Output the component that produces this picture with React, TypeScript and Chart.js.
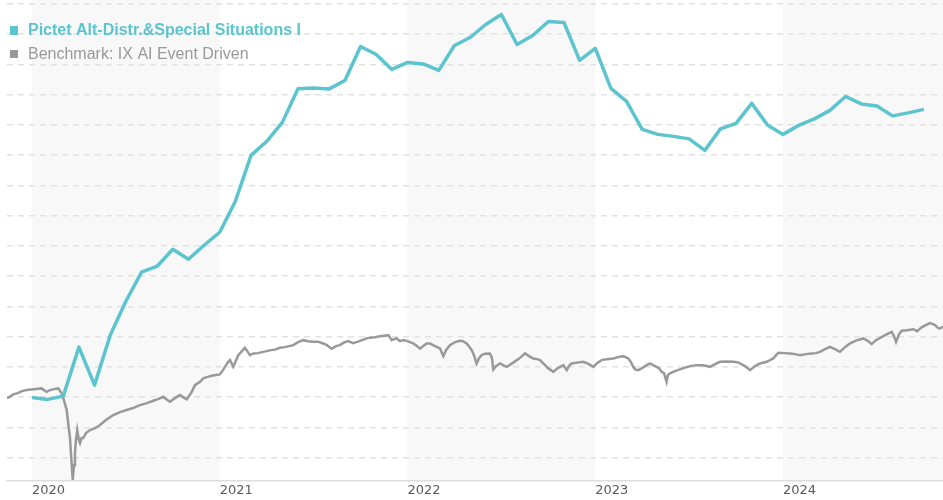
import React, { useEffect, useRef } from "react";
import { Chart, registerables } from "chart.js";

Chart.register(...registerables);

const fundName = "Pictet Alt-Distr.&Special Situations I";
const benchName = "Benchmark: IX AI Event Driven";
const fundColor = "#5cc4ce";
const benchColor = "#999999";

const yearTicks = [2020, 2021, 2022, 2023, 2024];
const shadedYears = [2020, 2022, 2024];

// Fund: month-end values (performance, %)
const fundMonths = [
  "2019-12", "2020-01", "2020-02", "2020-03", "2020-04", "2020-05", "2020-06", "2020-07", "2020-08", "2020-09", "2020-10", "2020-11",
  "2020-12", "2021-01", "2021-02", "2021-03", "2021-04", "2021-05", "2021-06", "2021-07", "2021-08", "2021-09", "2021-10", "2021-11",
  "2021-12", "2022-01", "2022-02", "2022-03", "2022-04", "2022-05", "2022-06", "2022-07", "2022-08", "2022-09", "2022-10", "2022-11",
  "2022-12", "2023-01", "2023-02", "2023-03", "2023-04", "2023-05", "2023-06", "2023-07", "2023-08", "2023-09", "2023-10", "2023-11",
  "2023-12", "2024-01", "2024-02", "2024-03", "2024-04", "2024-05", "2024-06", "2024-07", "2024-08", "2024-09",
];
const fundValues = [
  -0.17, -0.76, 0.33, 16.52, 3.96, 20.48, 31.71, 41.3, 43.28, 48.89, 45.59, 50.21,
  54.51, 64.75, 79.95, 84.57, 90.85, 101.98, 102.25, 101.92, 104.72, 115.96, 113.31, 108.36,
  110.67, 110.17, 108.03, 116.29, 118.93, 123.22, 126.53, 116.62, 119.59, 124.21, 123.88, 111.33,
  115.3, 102.08, 97.79, 88.54, 86.88, 86.22, 85.4, 81.6, 88.7, 90.52, 97.13, 90.02,
  86.88, 89.86, 92.0, 94.81, 99.41, 96.96, 96.3, 93.0, 93.99, 95.14,
];

// Benchmark: dates as decimal years, values (performance, %)
const benchDates = [
  2019.867, 2019.883, 2019.9, 2019.925, 2019.947, 2019.972, 2019.995, 2020.021, 2020.052, 2020.064,
  2020.078, 2020.096, 2020.117, 2020.14, 2020.158, 2020.17, 2020.185, 2020.194, 2020.202, 2020.21,
  2020.217, 2020.224, 2020.229, 2020.234, 2020.241, 2020.25, 2020.256, 2020.264, 2020.273, 2020.288,
  2020.309, 2020.336, 2020.362, 2020.394, 2020.433, 2020.469, 2020.504, 2020.538, 2020.575, 2020.612,
  2020.646, 2020.671, 2020.699, 2020.714, 2020.735, 2020.762, 2020.788, 2020.804, 2020.824, 2020.836,
  2020.851, 2020.868, 2020.895, 2020.912, 2020.932, 2020.957, 2020.98, 2021.001, 2021.017, 2021.028,
  2021.044, 2021.055, 2021.072, 2021.087, 2021.099, 2021.113, 2021.134, 2021.15, 2021.161, 2021.179,
  2021.204, 2021.225, 2021.25, 2021.273, 2021.294, 2021.321, 2021.347, 2021.369, 2021.392, 2021.417,
  2021.445, 2021.47, 2021.498, 2021.523, 2021.551, 2021.571, 2021.596, 2021.619, 2021.64, 2021.658,
  2021.683, 2021.711, 2021.736, 2021.765, 2021.779, 2021.8, 2021.827, 2021.853, 2021.875, 2021.898,
  2021.916, 2021.928, 2021.942, 2021.96, 2021.978, 2021.996, 2022.013, 2022.031, 2022.051, 2022.067,
  2022.083, 2022.102, 2022.12, 2022.136, 2022.155, 2022.173, 2022.191, 2022.205, 2022.226, 2022.253,
  2022.28, 2022.296, 2022.315, 2022.327, 2022.342, 2022.354, 2022.368, 2022.381, 2022.395, 2022.413,
  2022.439, 2022.45, 2022.457, 2022.471, 2022.493, 2022.509, 2022.528, 2022.551, 2022.582, 2022.604,
  2022.626, 2022.647, 2022.67, 2022.69, 2022.706, 2022.727, 2022.75, 2022.764, 2022.776, 2022.801,
  2022.83, 2022.848, 2022.86, 2022.874, 2022.903, 2022.936, 2022.961, 2022.99, 2023.009, 2023.034,
  2023.062, 2023.096, 2023.121, 2023.149, 2023.176, 2023.19, 2023.202, 2023.212, 2023.229, 2023.249,
  2023.274, 2023.291, 2023.307, 2023.327, 2023.339, 2023.354, 2023.366, 2023.38, 2023.387, 2023.398,
  2023.425, 2023.451, 2023.478, 2023.505, 2023.54, 2023.574, 2023.611, 2023.638, 2023.664, 2023.696,
  2023.735, 2023.755, 2023.771, 2023.797, 2023.824, 2023.851, 2023.877, 2023.913, 2023.931, 2023.948,
  2023.963, 2023.975, 2024.005, 2024.037, 2024.064, 2024.09, 2024.122, 2024.153, 2024.176, 2024.197,
  2024.224, 2024.25, 2024.277, 2024.303, 2024.33, 2024.357, 2024.389, 2024.428, 2024.453, 2024.472,
  2024.495, 2024.534, 2024.554, 2024.579, 2024.591, 2024.602, 2024.618, 2024.632, 2024.66, 2024.694,
  2024.714, 2024.74, 2024.761, 2024.782, 2024.799, 2024.809, 2024.827, 2024.836, 2024.852,
];
const benchValues = [
  -0.33, 0.17, 0.89, 1.32, 1.98, 2.31, 2.48, 2.64, 2.87, 2.31,
  1.75, 2.31, 2.64, 2.87, 1.22, -0.99, -4.29, -9.25, -13.12, -20.81,
  -27.42, -22.46, -18.5, -14.21, -10.9, -14.21, -15.2, -13.54, -13.54, -11.89,
  -10.9, -10.24, -9.25, -7.6, -5.95, -4.96, -4.29, -3.63, -2.64, -1.98,
  -1.22, -0.66, 0.1, -0.66, -1.55, -0.33, 0.66, 0.0, -0.76, 0.33,
  1.75, 3.96, 5.05, 6.18, 6.61, 7.04, 7.27, 7.5, 8.92, 10.01,
  11.56, 12.22, 10.01, 12.22, 13.88, 14.87, 16.29, 14.87, 13.88, 14.44,
  14.54, 14.87, 15.2, 15.53, 15.69, 16.29, 16.52, 16.85, 17.18, 18.17,
  18.83, 18.5, 18.27, 18.33, 17.74, 17.18, 16.02, 16.85, 17.18, 17.94,
  18.5, 17.84, 18.33, 19.0, 19.33, 19.66, 19.82, 20.15, 20.32, 20.48,
  18.83, 19.16, 19.39, 18.5, 18.83, 18.6, 18.17, 17.74, 16.85, 16.02,
  16.85, 17.74, 17.74, 17.18, 16.62, 16.09, 13.54, 15.53, 17.18, 18.17,
  18.6, 18.5, 17.74, 16.85, 15.53, 13.88, 11.13, 12.88, 13.88, 14.37,
  14.44, 12.88, 9.15, 10.24, 11.13, 10.57, 10.01, 10.9, 12.22, 13.21,
  14.44, 13.54, 12.78, 12.55, 12.22, 10.9, 9.48, 8.92, 8.36, 9.58,
  10.57, 8.92, 10.24, 11.13, 11.4, 11.66, 11.07, 10.01, 11.23, 12.22,
  12.55, 12.78, 13.21, 13.54, 12.78, 11.56, 10.01, 9.15, 8.92, 9.58,
  10.57, 11.13, 10.57, 10.01, 9.58, 8.36, 7.93, 5.05, 7.27, 7.83,
  8.59, 9.15, 9.75, 10.24, 10.57, 10.57, 10.01, 10.9, 11.66, 11.73,
  11.66, 11.56, 11.13, 10.24, 8.92, 10.24, 11.13, 11.66, 12.22, 12.78,
  13.88, 14.63, 14.54, 14.44, 14.21, 13.88, 14.21, 14.44, 14.54, 14.97,
  15.86, 16.62, 15.86, 14.97, 16.52, 17.74, 18.67, 19.39, 18.5, 17.51,
  18.83, 20.15, 20.81, 21.57, 20.15, 18.27, 20.81, 21.97, 22.13, 22.46,
  21.8, 23.13, 23.79, 24.45, 24.12, 23.79, 22.79, 22.7, 23.29,
];

const xMin = 2019.867;
const xMax = 2024.852;
const yMin = -27.75;
const yMax = 130;

function monthToYear(s: string): number {
  const [y, m] = s.split("-").map(Number);
  return y + m / 12;
}

const bandsPlugin = {
  id: "bands",
  beforeDraw(chart: any) {
    const { ctx, chartArea, scales } = chart;
    const xs = scales.x;
    ctx.save();
    ctx.fillStyle = "#f8f8f8";
    for (const yr of shadedYears) {
      const x0 = Math.max(chartArea.left, xs.getPixelForValue(yr));
      const x1 = Math.min(chartArea.right, xs.getPixelForValue(yr + 1));
      if (x1 > x0) ctx.fillRect(x0, 0, x1 - x0, chartArea.bottom);
    }
    ctx.restore();
  },
};

const legendPlugin = {
  id: "customLegend",
  afterDraw(chart: any) {
    const { ctx } = chart;
    ctx.save();
    ctx.textBaseline = "alphabetic";
    ctx.textAlign = "left";
    ctx.fillStyle = fundColor;
    ctx.fillRect(10, 26, 8, 9);
    ctx.font = "bold 16px 'Liberation Sans', Arial, sans-serif";
    ctx.fillText(fundName, 28, 35);
    ctx.fillStyle = benchColor;
    ctx.fillRect(10, 50, 8, 8);
    ctx.font = "16px 'Liberation Sans', Arial, sans-serif";
    ctx.fillText(benchName, 28, 58.5);
    ctx.restore();
  },
};

export default function App() {
  const ref = useRef<HTMLCanvasElement | null>(null);

  useEffect(() => {
    if (!ref.current) return;
    const fundData = fundMonths.map((m, i) => ({ x: monthToYear(m), y: fundValues[i] }));
    const benchData = benchDates.map((d, i) => ({ x: d, y: benchValues[i] }));
    const chart = new Chart(ref.current, {
      type: "line",
      data: {
        datasets: [
          {
            label: fundName,
            data: fundData,
            borderColor: fundColor,
            borderWidth: 3.5,
            borderJoinStyle: "round",
            pointRadius: 0,
            tension: 0,
            fill: false,
          },
          {
            label: benchName,
            data: benchData,
            borderColor: benchColor,
            borderWidth: 2.5,
            pointRadius: 0,
            tension: 0,
            fill: false,
          },
        ],
      },
      options: {
        animation: false,
        responsive: false,
        maintainAspectRatio: false,
        layout: { padding: { left: 7, top: 4, right: 0, bottom: 0 } },
        plugins: {
          legend: { display: false },
          tooltip: { enabled: false },
        },
        scales: {
          x: {
            type: "linear",
            min: xMin,
            max: xMax,
            grid: { display: false, drawTicks: false },
            border: { display: true, color: "#dddddd", width: 1.5 },
            afterBuildTicks: (scale: any) => {
              scale.ticks = yearTicks.map((v) => ({ value: v }));
            },
            afterFit: (scale: any) => {
              scale.height = 19;
            },
            ticks: {
              autoSkip: false,
              maxRotation: 0,
              align: "start",
              padding: 2,
              color: "#5a5a5a",
              font: { family: "'DejaVu Sans'", size: 13 },
              callback: (v: any) => String(v),
            },
          },
          y: {
            type: "linear",
            min: yMin,
            max: yMax,
            afterBuildTicks: (scale: any) => {
              const t = [];
              for (let v = -20; v <= 130; v += 10) t.push({ value: v });
              scale.ticks = t;
            },
            afterFit: (scale: any) => {
              scale.width = 0;
            },
            border: { display: false, dash: [6, 5] },
            grid: { color: "#e2e2e2", lineWidth: 1.5, drawTicks: false },
            ticks: { display: false },
          },
        },
      },
      plugins: [bandsPlugin, legendPlugin],
    } as any);
    return () => chart.destroy();
  }, []);

  return (
    <div style={{ position: "absolute", left: 0, top: 0, width: 943, height: 500, background: "#ffffff" }}>
      <canvas ref={ref} width={943} height={500} style={{ display: "block" }} />
    </div>
  );
}
